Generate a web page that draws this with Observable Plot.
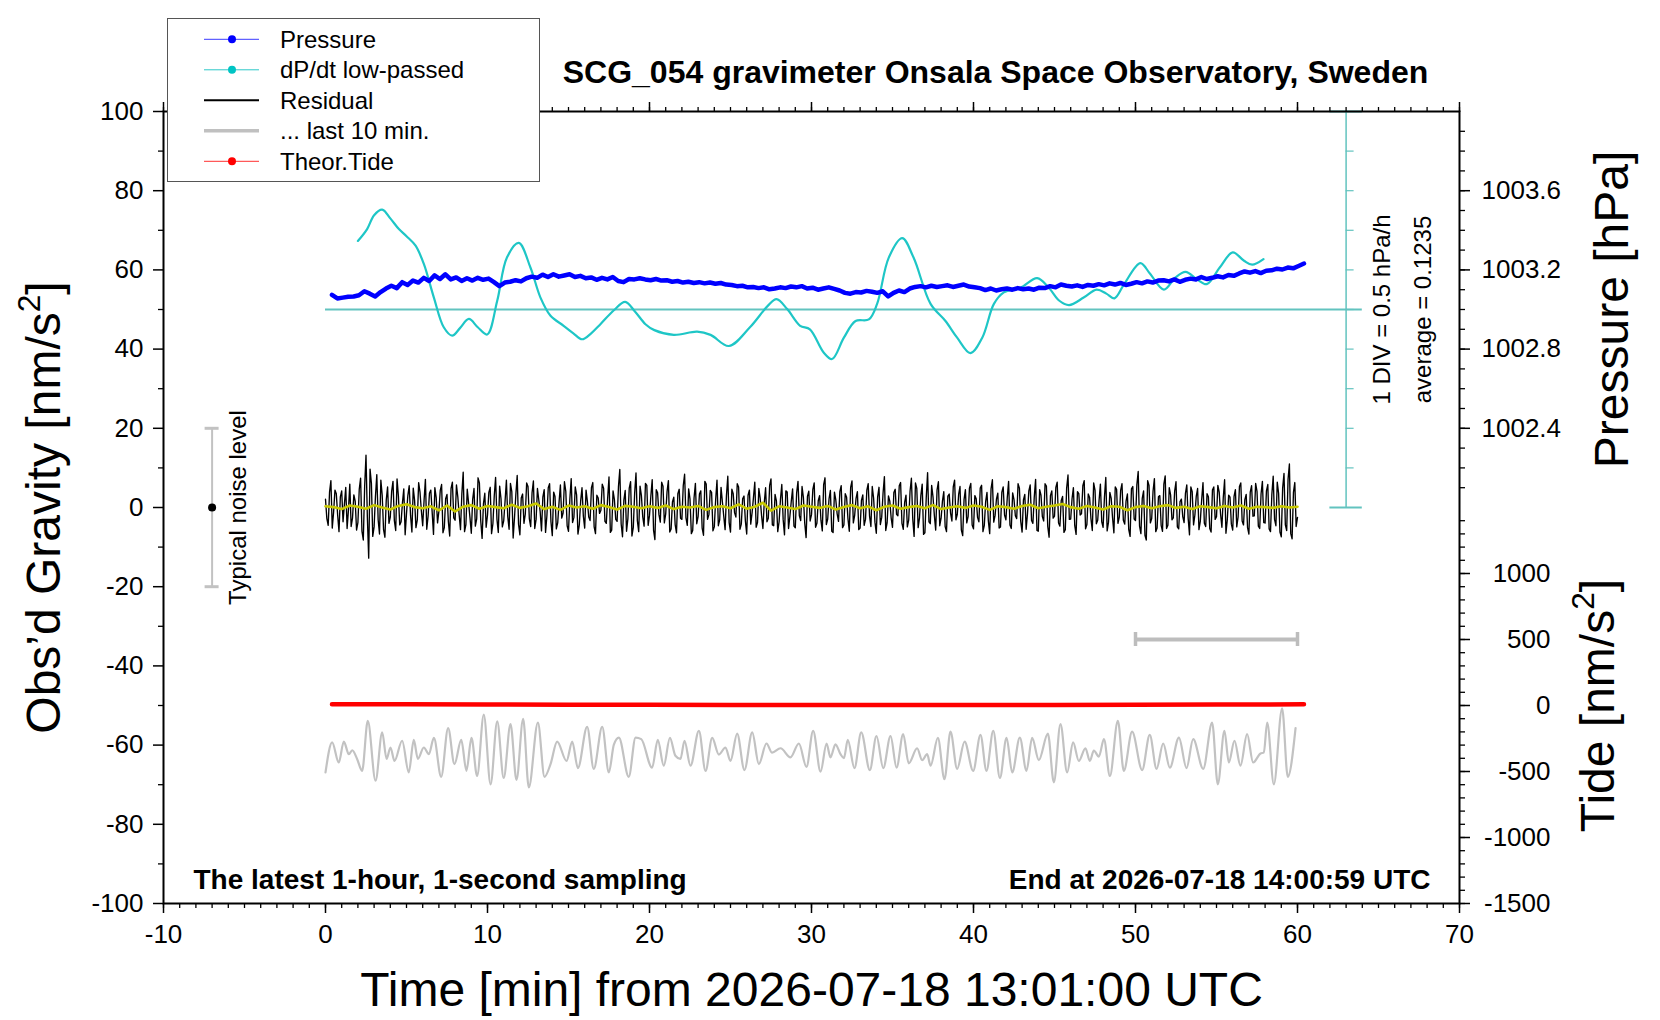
<!DOCTYPE html>
<html>
<head>
<meta charset="utf-8">
<script src="https://cdn.jsdelivr.net/npm/d3@7"></script>
<script src="https://cdn.jsdelivr.net/npm/@observablehq/plot@0.6"></script>
<style>
html, body { margin: 0; padding: 0; background: #fff; overflow: hidden; }
#chart svg { display: block; }
</style>
</head>
<body>
<div id="chart"></div>
<script>
// ---------------- DATA ----------------
// Axis ticks
const xMajor = [-10, 0, 10, 20, 30, 40, 50, 60, 70];
const xMinor = d3.range(-10, 71, 1);
const yMajor = [-100, -80, -60, -40, -20, 0, 20, 40, 60, 80, 100];
const yMinor = [-90, -70, -50, -30, -10, 10, 30, 50, 70, 90];
const pressureMajor = [1002.4, 1002.8, 1003.2, 1003.6];
const pressureMinor = [1002.1, 1002.2, 1002.3, 1002.4, 1002.5, 1002.6, 1002.7, 1002.8, 1002.9, 1003.0,
  1003.1, 1003.2, 1003.3, 1003.4, 1003.5, 1003.6, 1003.7, 1003.8, 1003.9];
const tideMajor = [-1500, -1000, -500, 0, 500, 1000];
const tideMinor = [-1500, -1400, -1300, -1200, -1100, -1000, -900, -800, -700, -600, -500, -400, -300, -200, -100,
  0, 100, 200, 300, 400, 500, 600, 700, 800, 900, 1000, 1100, 1200, 1300, 1400];
const divTicks = [10, 20, 30, 40, 50, 60, 70, 80, 90];

// Secondary axis definitions (pressure [hPa], tide [nm/s^2], dP/dt [hPa/h]) on the gravity axis
const pressureBase = 1002.0, pressurePerUnit = 0.02;
const tideZeroAt = -50, tidePerUnit = 30;
const dpdtAverage = 0.1235, dpdtLineAt = 50, dpdtPerUnit = 0.05;

// Pressure [hPa], sampled every 20 s from minute 0.4
const pressureStartMin = 0.4, pressureStepMin = 1 / 3;
const pressureHpa = [
  1003.074, 1003.056, 1003.060, 1003.064, 1003.066, 1003.072, 1003.092, 1003.080, 1003.066, 1003.088,
  1003.106, 1003.120, 1003.108, 1003.138, 1003.124, 1003.146, 1003.136, 1003.160, 1003.144, 1003.172,
  1003.154, 1003.178, 1003.152, 1003.162, 1003.144, 1003.158, 1003.146, 1003.160, 1003.150, 1003.156,
  1003.138, 1003.118, 1003.136, 1003.140, 1003.148, 1003.142, 1003.158, 1003.166, 1003.160, 1003.176,
  1003.164, 1003.178, 1003.166, 1003.172, 1003.178, 1003.164, 1003.170, 1003.158, 1003.162, 1003.150,
  1003.160, 1003.152, 1003.164, 1003.144, 1003.138, 1003.154, 1003.152, 1003.158, 1003.152, 1003.148,
  1003.154, 1003.146, 1003.148, 1003.140, 1003.144, 1003.136, 1003.140, 1003.134, 1003.138, 1003.132,
  1003.136, 1003.130, 1003.134, 1003.126, 1003.124, 1003.118, 1003.120, 1003.112, 1003.114, 1003.108,
  1003.112, 1003.102, 1003.106, 1003.112, 1003.108, 1003.116, 1003.112, 1003.118, 1003.106, 1003.110,
  1003.100, 1003.106, 1003.112, 1003.104, 1003.096, 1003.084, 1003.080, 1003.088, 1003.086, 1003.094,
  1003.090, 1003.084, 1003.092, 1003.066, 1003.084, 1003.096, 1003.088, 1003.106, 1003.114, 1003.118,
  1003.112, 1003.120, 1003.114, 1003.118, 1003.122, 1003.114, 1003.120, 1003.126, 1003.116, 1003.112,
  1003.108, 1003.098, 1003.106, 1003.096, 1003.102, 1003.106, 1003.100, 1003.108, 1003.102, 1003.106,
  1003.100, 1003.110, 1003.108, 1003.118, 1003.112, 1003.126, 1003.120, 1003.116, 1003.122, 1003.114,
  1003.124, 1003.120, 1003.128, 1003.122, 1003.132, 1003.126, 1003.134, 1003.124, 1003.130, 1003.138,
  1003.132, 1003.142, 1003.136, 1003.146, 1003.148, 1003.142, 1003.152, 1003.140, 1003.150, 1003.156,
  1003.152, 1003.164, 1003.154, 1003.160, 1003.168, 1003.162, 1003.174, 1003.170, 1003.182, 1003.192,
  1003.186, 1003.194, 1003.184, 1003.196, 1003.198, 1003.206, 1003.202, 1003.212, 1003.208, 1003.220,
  1003.232
];

// dP/dt low-passed [hPa/h] : [minute, value]
const dpdtLowPassed = [
  [2.0, 0.989], [2.57, 1.139], [3.0, 1.314], [3.5, 1.384], [4.0, 1.274], [4.53, 1.139], [5.0, 1.049],
  [5.56, 0.929], [6.07, 0.699], [6.69, 0.274], [7.3, -0.101], [7.82, -0.207], [8.3, -0.112], [8.85, 0.004],
  [9.4, -0.101], [9.98, -0.192], [10.6, 0.234], [11.2, 0.779], [11.93, 0.964], [12.65, 0.654], [13.27, 0.274],
  [13.89, 0.044], [14.7, -0.082], [15.3, -0.177], [15.84, -0.252], [16.4, -0.177], [16.97, -0.062],
  [17.8, 0.114], [18.5, 0.219], [19.1, 0.099], [19.75, -0.062], [20.3, -0.137], [21.5, -0.197],
  [22.94, -0.157], [23.77, -0.197], [24.9, -0.337], [26.2, -0.101], [27.3, 0.169], [27.84, 0.254],
  [28.5, 0.129], [29.3, -0.082], [29.9, -0.127], [30.76, -0.422], [31.27, -0.502], [32.0, -0.232],
  [32.72, -0.022], [33.54, -0.002], [34.05, 0.194], [34.77, 0.779], [35.6, 1.024], [36.3, 0.779],
  [37.35, 0.194], [38.27, -0.022], [38.99, -0.232], [39.81, -0.427], [40.54, -0.232], [41.26, 0.194],
  [41.87, 0.339], [42.9, 0.399], [43.93, 0.519], [44.65, 0.399], [45.3, 0.234], [45.9, 0.179],
  [46.8, 0.274], [47.6, 0.374], [48.2, 0.324], [48.7, 0.264], [49.3, 0.444], [50.3, 0.709], [50.9, 0.574],
  [51.75, 0.374], [52.47, 0.529], [53.09, 0.599], [53.8, 0.504], [54.4, 0.444], [55.2, 0.654],
  [56.0, 0.844], [56.7, 0.739], [57.2, 0.689], [57.9, 0.759]
];

// Residual [nm/s^2], every 5 s from minute 0 (one row per minute)
const residualStepMin = 1 / 12;
const residual = [
  2.1, -2.8, -4.5, 3.9, 6.8, -5.2, -1.2, 4.4, 3.5, -1.9, -6.1, 2.7,
  4.2, -3.6, 0.8, 5.1, -5.3, -0.6, 5.9, -4.8, -2.7, 3.2, 1.6, -5.7,
  -3.8, 4.6, 7.4, -6.0, -8.2, 5.3, 13.2, -2.4, -12.8, 9.7, 6.1, -7.3,
  -4.9, 2.8, 8.3, -3.1, -6.7, 6.9, 3.1, -5.6, -7.5, 1.9, 5.2, -4.0,
  -2.4, 4.1, 6.6, -3.3, -5.8, 7.2, 2.9, -4.4, -3.6, 1.2, 4.7, -6.9,
  -1.5, 3.0, 5.5, -2.0, -6.2, 4.9, 1.8, -5.1, -3.1, 6.3, 3.9, -0.8,
  -4.6, 1.7, 7.1, -5.5, -2.2, 3.6, 4.4, -1.1, -6.8, 5.0, 2.5, -3.9,
  -0.9, 4.3, 5.8, -6.4, -5.1, 2.2, 3.3, -3.5, -7.2, 4.8, 6.4, -2.6,
  -3.2, 5.7, 2.7, -1.8, -5.6, 3.4, 8.9, -6.1, -4.3, 4.6, 1.1, -2.5,
  -6.5, 2.0, 4.8, -4.7, -2.9, 7.5, 6.2, -3.4, -7.8, 0.9, 3.6, -5.0,
  -1.9, 3.8, 5.1, -6.6, -4.1, 2.9, 7.6, -3.0, -6.3, 5.4, 2.2, -4.9,
  -3.4, 1.5, 6.9, -2.3, -5.5, 6.1, 4.0, -7.7, -2.6, 3.3, 8.1, -4.2,
  -6.9, 2.4, 3.4, -4.0, -1.7, 6.2, 5.3, -2.9, -4.8, 3.7, 6.7, -5.3,
  -3.0, 4.8, 1.9, -1.0, -5.9, 2.6, 4.5, -6.3, -2.1, 5.0, 6.0, -3.6,
  -7.1, 3.9, 2.8, -5.4, -3.9, 1.3, 5.7, -2.7, -1.4, 6.5, 4.1, -4.6,
  -6.0, 2.1, 7.3, -3.8, -2.5, 5.2, 3.2, -6.7, -4.4, 1.6, 5.0, -2.2,
  -5.2, 4.4, 1.5, -2.4, -3.3, 5.0, 6.3, -4.9, -6.6, 3.1, 2.4, -1.5,
  -0.7, 5.9, 4.9, -3.5, -4.0, 2.3, 7.7, -6.3, -5.7, 4.2, 2.0, -3.0,
  -3.5, 5.2, 9.6, -4.1, -7.4, 1.8, 4.3, -6.0, -2.8, 4.9, 6.5, -7.2,
  -5.0, 3.6, 8.7, -3.3, -6.1, 5.4, 3.0, -2.4, -4.7, 6.1, 5.6, -4.5,
  -2.0, 2.9, 7.0, -5.7, -8.1, 4.5, 3.7, -1.8, -3.7, 6.4, 5.4, -3.9,
  -1.6, 4.0, 6.8, -6.2, -5.4, 1.4, 2.6, -4.3, -6.4, 3.5, 4.6, -2.7,
  -3.0, 5.5, 8.4, -2.6, -4.5, 4.7, 2.1, -6.6, -5.8, 2.4, 6.1, -4.1,
  -2.3, 3.4, 4.2, -5.2, -7.0, 6.6, 5.9, -3.0, -1.8, 4.3, 3.8, -5.9,
  -4.9, 1.9, 6.9, -4.6, -3.1, 5.1, 1.4, -2.2, -5.6, 3.0, 7.9, -3.8,
  -6.2, 4.6, 3.5, -1.3, -2.4, 6.0, 5.2, -5.5, -4.2, 2.2, 2.9, -3.3,
  -6.7, 3.1, 4.4, -4.2, -1.3, 2.5, 6.4, -5.0, -3.8, 4.8, 2.3, -2.0,
  -5.3, 1.2, 5.0, -3.6, -2.7, 5.6, 7.2, -4.4, -4.6, 3.3, 1.7, -6.1,
  -3.6, 2.0, 5.8, -3.0, -6.9, 4.2, 3.9, -5.3, -2.2, 1.5, 4.7, -4.7,
  -5.1, 3.7, 6.6, -2.1, -3.3, 5.3, 2.5, -4.0, -7.6, 2.8, 4.1, -3.4,
  -1.8, 4.6, 6.2, -5.0, -4.0, 1.7, 3.0, -3.2, -5.9, 5.8, 7.5, -4.3,
  -2.9, 2.2, 4.3, -6.0, -6.3, 3.9, 1.9, -1.6, -3.5, 4.0, 5.5, -5.1,
  -4.4, 3.5, 2.6, -2.8, -6.0, 5.1, 6.7, -3.9, -1.9, 2.3, 4.0, -5.6,
  -5.2, 1.8, 3.2, -4.5, -3.0, 4.4, 6.0, -2.2, -4.8, 5.3, 2.4, -3.7,
  -6.5, 2.7, 5.1, -4.3, -2.5, 3.6, 7.8, -5.8, -3.9, 2.9, 1.6, -2.6,
  -5.0, 3.8, 4.6, -1.7, -2.1, 5.5, 6.3, -4.0, -5.5, 1.3, 3.1, -4.9,
  -3.2, 4.1, 7.4, -2.9, -7.3, 6.2, 4.8, -5.1, -2.6, 3.0, 5.9, -6.8,
  -6.4, 2.5, 8.8, -3.6, -4.1, 5.6, 2.7, -2.0, -5.7, 4.4, 6.5, -4.6,
  -2.7, 1.6, 4.0, -4.8, -6.1, 2.9, 3.4, -1.4, -3.4, 5.2, 6.9, -3.1,
  -1.7, 3.3, 5.3, -5.7, -7.1, 2.0, 4.5, -3.9, -2.3, 4.9, 6.1, -4.4,
  -5.4, 3.0, 2.2, -2.5, -3.6, 4.9, 5.6, -6.1, -4.5, 1.5, 3.8, -3.4,
  -6.6, 4.7, 7.0, -3.7, -2.0, 2.1, 3.6, -5.2, -4.9, 3.9, 5.2, -1.9,
  -3.1, 2.4, 6.6, -4.4, -5.3, 3.7, 2.0, -2.1, -2.8, 6.0, 4.9, -3.5,
  -6.2, 1.9, 3.3, -5.5, -1.5, 4.2, 5.7, -3.3, -4.0, 2.6, 7.1, -5.8,
  -6.0, 4.5, 3.1, -2.3, -3.4, 6.0, 5.4, -4.8, -7.5, 3.0, 4.2, -2.7,
  -2.2, 5.1, 6.4, -3.9, -4.7, 1.8, 2.8, -6.3, -5.6, 4.9, 8.2, -3.0,
  -2.9, 2.2, 5.0, -4.6, -6.8, 4.0, 3.5, -1.9, -1.6, 5.5, 6.8, -5.4,
  -4.3, 3.4, 2.5, -2.8, -5.8, 6.2, 4.4, -4.1, -3.2, 1.7, 5.9, -3.6,
  -5.0, 2.6, 7.6, -5.9, -3.7, 3.8, 2.3, -2.6, -6.4, 5.2, 4.6, -4.0,
  -2.4, 4.3, 6.0, -3.2, -4.2, 1.6, 3.4, -5.6, -7.3, 4.7, 5.3, -2.9,
  -3.3, 5.7, 9.1, -4.7, -6.6, 2.3, 4.2, -7.0, -8.2, 6.8, 5.6, -3.9,
  -2.8, 4.1, 7.3, -6.1, -5.2, 2.7, 3.0, -4.5, -6.0, 5.9, 8.0, -5.3,
  -4.5, 5.0, 3.2, -3.1, -2.6, 4.1, 6.5, -4.9, -5.4, 1.5, 2.1, -2.3,
  -3.8, 3.6, 5.7, -2.7, -6.9, 5.2, 4.0, -4.4, -1.9, 2.8, 4.8, -5.6,
  -3.5, 1.9, 6.3, -4.0, -4.8, 3.5, 2.7, -5.3, -6.2, 4.4, 5.2, -3.0,
  -2.3, 5.6, 3.9, -1.6, -5.0, 2.4, 7.0, -6.5, -3.1, 3.1, 2.6, -4.2,
  -5.7, 2.8, 4.5, -4.9, -2.4, 5.3, 6.2, -3.4, -4.4, 2.0, 3.3, -5.1,
  -6.7, 3.9, 5.5, -2.2, -2.1, 6.1, 4.1, -4.7, -5.3, 3.4, 6.6, -3.8,
  -3.9, 4.2, 5.8, -5.4, -6.1, 3.3, 7.9, -3.0, -4.6, 6.4, 3.6, -6.2,
  -7.4, 4.9, 8.6, -4.4, -5.8, 7.1, 11.0, -6.6, -7.9, 3.8, 6.3, -4.8,
  -2.5
];

// Smoothed residual [nm/s^2], every 30 s from minute 0
const smoothStepMin = 0.5;
const residualSmooth = [
  0.3, 0.1, -0.4, 0.5, 0.2, -0.3, 0.6, 0.0, -0.5, 0.4,
  0.8, 0.1, -0.2, 0.3, -0.7, 0.5, -1.0, 0.2, 0.6, -0.3,
  0.4, 0.1, -0.2, 0.7, -0.1, 0.3, 1.0, -0.4, 0.2, -0.6,
  0.5, 0.0, 0.3, -0.3, 0.6, 0.1, -0.5, 0.4, 0.2, -0.2,
  0.3, -0.1, 0.5, -0.4, 0.2, 0.0, 0.4, -0.6, 0.1, 0.3,
  -0.2, 0.8, -0.3, 0.2, 1.2, -0.8, 0.3, 0.0, -0.4, 0.5,
  0.2, -0.1, 0.4, -0.5, 0.1, 0.6, -0.2, 0.3, -0.7, 0.2,
  0.5, -0.3, 0.1, 0.4, -0.2, 0.6, -0.4, 0.0, 0.3, -0.1,
  0.5, 0.2, -0.6, 0.3, 0.1, -0.3, 0.4, 0.7, -0.2, 0.2,
  0.5, 0.9, 0.1, -0.3, 0.4, 0.0, -0.5, 0.3, 0.2, -0.7,
  0.1, 0.4, -0.2, 0.3, 0.6, -0.1, 0.2, -0.4, 0.3, 0.1,
  -0.2, 0.4, 0.0, 0.5, -0.3, 0.2, 0.1, -0.1, 0.3, 0.0,
  0.2
];

// "... last 10 min." residual, expanded over the hour, as drawn on the gravity axis : [minute, value]
const lastTenMin = [
  [0.00, -66.9], [0.41, -59.3], [0.82, -64.4], [1.13, -59.1], [1.44, -62.3], [1.65, -61.3], [1.95, -63.5],
  [2.26, -66.5], [2.61, -53.9], [3.09, -69.0], [3.50, -56.8], [3.77, -63.5], [4.01, -60.6], [4.26, -64.0],
  [4.73, -58.9], [5.14, -66.9], [5.45, -58.7], [5.70, -63.5], [6.07, -60.6], [6.38, -62.3], [6.69, -58.2],
  [7.14, -68.0], [7.57, -55.7], [7.96, -64.8], [8.38, -58.7], [8.70, -66.5], [9.01, -58.2], [9.36, -67.8],
  [9.77, -52.3], [10.19, -69.9], [10.60, -54.0], [11.00, -68.3], [11.42, -54.7], [11.79, -68.8],
  [12.20, -53.4], [12.55, -70.7], [13.11, -54.3], [13.52, -68.0], [13.89, -64.8], [14.30, -59.1],
  [14.88, -64.0], [15.23, -59.1], [15.58, -65.8], [16.15, -55.4], [16.56, -66.0], [17.08, -55.4],
  [17.49, -66.9], [17.80, -59.9], [18.11, -58.1], [18.72, -68.0], [19.14, -58.1], [19.49, -58.5],
  [20.16, -65.7], [20.51, -58.7], [20.88, -65.2], [21.26, -58.2], [21.60, -62.7], [21.91, -63.5],
  [22.16, -58.9], [22.53, -65.2], [23.05, -56.4], [23.46, -66.5], [23.87, -58.2], [24.28, -62.4],
  [24.69, -60.6], [25.00, -64.0], [25.41, -57.1], [25.86, -66.3], [26.34, -56.8], [26.75, -64.8],
  [27.22, -59.6], [27.57, -61.9], [28.09, -60.8], [28.70, -63.1], [29.22, -59.6], [29.69, -65.5],
  [30.10, -56.4], [30.56, -66.7], [30.93, -59.6], [31.17, -63.1], [31.48, -59.8], [31.79, -62.3],
  [32.00, -63.3], [32.24, -58.7], [32.65, -65.8], [33.07, -56.8], [33.60, -66.3], [34.01, -57.7],
  [34.43, -65.8], [34.88, -57.7], [35.25, -65.7], [35.66, -57.2], [36.00, -64.6], [36.52, -60.8],
  [36.83, -63.8], [37.14, -62.3], [37.35, -65.2], [37.80, -58.2], [38.21, -68.6], [38.58, -56.6],
  [38.99, -66.0], [39.45, -59.1], [39.98, -66.5], [40.43, -57.4], [40.80, -66.5], [41.22, -56.4],
  [41.63, -68.3], [42.04, -58.2], [42.39, -66.9], [42.86, -58.1], [43.27, -66.5], [43.62, -58.2],
  [44.03, -63.8], [44.59, -57.1], [44.96, -69.4], [45.37, -54.7], [45.78, -66.9], [46.15, -59.3],
  [46.50, -64.0], [46.91, -60.8], [47.18, -64.0], [47.43, -61.4], [47.74, -62.9], [48.05, -58.5],
  [48.42, -67.8], [48.91, -53.9], [49.28, -66.5], [49.79, -56.6], [50.41, -66.3], [50.88, -57.4],
  [51.30, -66.0], [51.71, -59.6], [52.12, -65.7], [52.68, -58.1], [53.15, -65.8], [53.56, -58.5],
  [54.18, -66.0], [54.73, -54.3], [55.08, -69.9], [55.49, -56.4], [55.76, -64.4], [56.11, -58.9],
  [56.48, -65.2], [56.89, -57.2], [57.26, -64.4], [57.72, -62.1], [57.92, -61.9], [58.13, -54.3],
  [58.54, -69.9], [59.05, -50.7], [59.40, -68.0], [59.88, -55.7]
];

// Theoretical tide [nm/s^2] : [minute, value]
const theorTide = [
  [0.4, 10], [5, 9], [10, 8], [15, 6], [20, 5], [25, 4], [30, 3], [35, 3], [40, 3], [45, 4],
  [50, 5], [55, 7], [60.4, 9]
];

// Annotations
const noiseBar = {minute: -7, low: -20, high: 20, mid: 0};
const lastWindowBar = {from: 50, to: 60, tide: 500};
const dpdtLine = {from: 0, to: 64, scaleAt: 63, scaleFrom: 62, scaleTo: 64, low: 0, high: 100};

const legendLabels = ["Pressure", "dP/dt low-passed", "Residual", "... last 10 min.", "Theor.Tide"];
const legendColors = ["#3a3aff", "#2cc8c8", "#000000", "#c0c0c0", "#ff3030"];
const legendWidths = [1, 1, 2, 3.5, 1];
const legendDots = ["#0000ff", "#00c4c4", null, null, "#ff0000"];

// ---------------- MAPPINGS ----------------
const toPy = p => (p - pressureBase) / pressurePerUnit;
const toTy = t => tideZeroAt + t / tidePerUnit;
const toDy = v => dpdtLineAt + (v - dpdtAverage) / dpdtPerUnit;
const fromPy = y => pressureBase + y * pressurePerUnit;
const fromTy = y => (y - tideZeroAt) * tidePerUnit;

const pressureData = pressureHpa.map((p, i) => ({t: pressureStartMin + i * pressureStepMin, y: toPy(p)}));
const dpdtData = dpdtLowPassed.map(([t, v]) => ({t, y: toDy(v)}));
const residualData = residual.map((v, i) => ({t: i * residualStepMin, y: v}));
const smoothData = residualSmooth.map((v, i) => ({t: i * smoothStepMin, y: v}));
const lastData = lastTenMin.map(([t, v]) => ({t, y: v}));
const tideData = theorTide.map(([t, v]) => ({t, y: toTy(v)}));

const FONT = "'Liberation Sans', Arial, Helvetica, sans-serif";
const CYAN = "#1ec6c6";
const CYAN_LINE = "#62c3bf";
const GRAY = "#c2c2c2";

const chart = Plot.plot({
  width: 1660,
  height: 1020,
  marginLeft: 163,
  marginRight: 201,
  marginTop: 111,
  marginBottom: 117,
  x: {domain: [-10, 70]},
  y: {domain: [-100, 100]},
  style: {fontFamily: FONT, fontSize: "26px", background: "white", color: "black"},
  marks: [
    // dP/dt reference line and DIV scale
    Plot.ruleY([dpdtLineAt], {x1: dpdtLine.from, x2: dpdtLine.to, stroke: CYAN_LINE, strokeWidth: 2}),
    Plot.ruleX([dpdtLine.scaleAt], {y1: dpdtLine.low, y2: dpdtLine.high, stroke: CYAN_LINE, strokeWidth: 1.5}),
    Plot.ruleY(divTicks, {x1: dpdtLine.scaleAt, x2: dpdtLine.scaleAt, insetRight: -8, stroke: CYAN_LINE, strokeWidth: 1.2}),
    Plot.ruleY([dpdtLine.low, dpdtLine.high], {x1: dpdtLine.scaleFrom, x2: dpdtLine.scaleTo, stroke: CYAN_LINE, strokeWidth: 2}),

    // series
    Plot.line(lastData, {x: "t", y: "y", stroke: GRAY, strokeWidth: 2.2, curve: "monotone-x"}),
    Plot.line(tideData, {x: "t", y: "y", stroke: "#ff0000", strokeWidth: 4.5, strokeLinecap: "round"}),
    Plot.line(residualData, {x: "t", y: "y", stroke: "#000000", strokeWidth: 1.35}),
    Plot.line(smoothData, {x: "t", y: "y", stroke: "#c8c800", strokeWidth: 2.6}),
    Plot.line(dpdtData, {x: "t", y: "y", stroke: CYAN, strokeWidth: 2.2, curve: "catmull-rom"}),
    Plot.line(pressureData, {x: "t", y: "y", stroke: "#0000ff", strokeWidth: 4.5, strokeLinecap: "round", strokeLinejoin: "round"}),

    // last-10-min scale bar
    Plot.ruleY([toTy(lastWindowBar.tide)], {x1: lastWindowBar.from, x2: lastWindowBar.to, stroke: "#bdbdbd", strokeWidth: 4}),
    Plot.ruleX([lastWindowBar.from, lastWindowBar.to], {y1: toTy(lastWindowBar.tide), y2: toTy(lastWindowBar.tide), insetTop: -7, insetBottom: -7, stroke: "#bdbdbd", strokeWidth: 3.5}),

    // typical noise level bar
    Plot.ruleX([noiseBar.minute], {y1: noiseBar.low, y2: noiseBar.high, stroke: GRAY, strokeWidth: 2}),
    Plot.ruleY([noiseBar.low, noiseBar.high], {x1: noiseBar.minute, x2: noiseBar.minute, insetLeft: -7, insetRight: -7, stroke: GRAY, strokeWidth: 3}),
    Plot.dot([noiseBar], {x: "minute", y: "mid", r: 4, fill: "black", stroke: "none"}),
    Plot.text(["Typical noise level"], {x: () => noiseBar.minute, y: () => noiseBar.mid, dx: 34, rotate: -90, lineAnchor: "bottom", textAnchor: "middle", fontSize: 24}),

    // frame
    Plot.frame({stroke: "black", strokeWidth: 2}),

    // axes
    Plot.axisX(xMajor, {anchor: "bottom", tickSize: 10, tickPadding: 11, tickFormat: d => String(d), fontSize: 26, strokeWidth: 1.5, label: null}),
    Plot.axisX(xMinor, {anchor: "bottom", tickSize: 5, tickFormat: () => "", strokeWidth: 1.3, label: null}),
    Plot.axisX(xMajor, {anchor: "top", tickSize: 10, tickFormat: () => "", strokeWidth: 1.5, label: null}),
    Plot.axisX(xMinor, {anchor: "top", tickSize: 5, tickFormat: () => "", strokeWidth: 1.3, label: null}),
    Plot.axisY(yMajor, {anchor: "left", tickSize: 10, tickPadding: 10, tickFormat: d => String(d), fontSize: 26, strokeWidth: 1.5, label: null}),
    Plot.axisY(yMinor, {anchor: "left", tickSize: 5, tickFormat: () => "", strokeWidth: 1.3, label: null}),
    Plot.axisY(pressureMajor.map(toPy), {anchor: "right", tickSize: 10, tickPadding: 12, tickFormat: d => fromPy(d).toFixed(1), fontSize: 26, strokeWidth: 1.5, label: null}),
    Plot.axisY(pressureMinor.map(toPy), {anchor: "right", tickSize: 5, tickFormat: () => "", strokeWidth: 1.3, label: null}),
    Plot.axisY(tideMajor.map(toTy), {anchor: "right", tickSize: 10, tickPadding: 81, textAnchor: "end", tickFormat: d => String(Math.round(fromTy(d))), fontSize: 26, strokeWidth: 1.5, label: null}),
    Plot.axisY(tideMinor.map(toTy), {anchor: "right", tickSize: 5, tickFormat: () => "", strokeWidth: 1.3, label: null}),

    // axis titles
    Plot.text(["Obs\u2019d Gravity [nm/s\u00b2]"], {frameAnchor: "left", dx: -104, rotate: -90, textAnchor: "middle", lineAnchor: "bottom", fontSize: 48}),
    Plot.text(["Pressure [hPa]"], {frameAnchor: "right", y: () => dpdtLineAt, dx: 168, rotate: -90, textAnchor: "middle", lineAnchor: "bottom", fontSize: 48}),
    Plot.text(["Tide [nm/s\u00b2]"], {frameAnchor: "right", y: () => toTy(0), dx: 154, rotate: -90, textAnchor: "middle", lineAnchor: "bottom", fontSize: 48}),
    Plot.text(["Time [min] from 2026-07-18 13:01:00 UTC"], {frameAnchor: "bottom", dy: 102, textAnchor: "middle", lineAnchor: "bottom", fontSize: 48}),

    // DIV annotations
    Plot.text(["1 DIV = 0.5 hPa/h"], {frameAnchor: "right", y: () => dpdtLineAt, dx: -70, rotate: -90, textAnchor: "middle", lineAnchor: "bottom", fontSize: 24}),
    Plot.text(["average = " + dpdtAverage], {frameAnchor: "right", y: () => dpdtLineAt, dx: -29, rotate: -90, textAnchor: "middle", lineAnchor: "bottom", fontSize: 24}),

    // title and notes
    Plot.text(["SCG_054 gravimeter Onsala Space Observatory, Sweden"], {frameAnchor: "top", dx: 184, dy: -29, textAnchor: "middle", lineAnchor: "bottom", fontSize: 32, fontWeight: "bold"}),
    Plot.text(["The latest 1-hour, 1-second sampling"], {frameAnchor: "bottom-left", dx: 30, dy: -15, textAnchor: "start", lineAnchor: "bottom", fontSize: 28, fontWeight: "bold"}),
    Plot.text(["End at 2026-07-18 14:00:59 UTC"], {frameAnchor: "bottom-right", dx: -29, dy: -15, textAnchor: "end", lineAnchor: "bottom", fontSize: 28, fontWeight: "bold"})
  ]
});

document.getElementById("chart").appendChild(chart);

// Superscript "2" in the unit labels, rendered larger than the Unicode glyph
d3.select(chart).selectAll("text").each(function () {
  const node = d3.select(this);
  const s = node.text();
  if (s.includes("\u00b2") && !node.select("tspan").size()) {
    const [before, after] = s.split("\u00b2");
    node.text(null);
    node.append("tspan").text(before);
    node.append("tspan").attr("font-size", "0.66em").attr("dy", "-0.62em").text("2");
    node.append("tspan").attr("dy", "0.41em").text(after);
  }
});

// ---------------- LEGEND (overlay box, top-left) ----------------
const svg = d3.select(chart);
const lg = svg.append("g").attr("font-family", FONT).attr("font-size", 24).attr("fill", "black").attr("text-anchor", "start");
lg.append("rect").attr("x", 167.5).attr("y", 18.5).attr("width", 372).attr("height", 163)
  .attr("fill", "white").attr("stroke", "#555").attr("stroke-width", 1);
legendLabels.forEach((label, i) => {
  const cy = 39.3 + i * 30.5;
  lg.append("line").attr("x1", 204).attr("x2", 259).attr("y1", cy).attr("y2", cy)
    .attr("stroke", legendColors[i]).attr("stroke-width", legendWidths[i]);
  if (legendDots[i]) lg.append("circle").attr("cx", 232).attr("cy", cy).attr("r", 4).attr("fill", legendDots[i]);
  lg.append("text").attr("x", 280).attr("y", cy + 8.5).attr("text-anchor", "start").text(label);
});
</script>
</body>
</html>
